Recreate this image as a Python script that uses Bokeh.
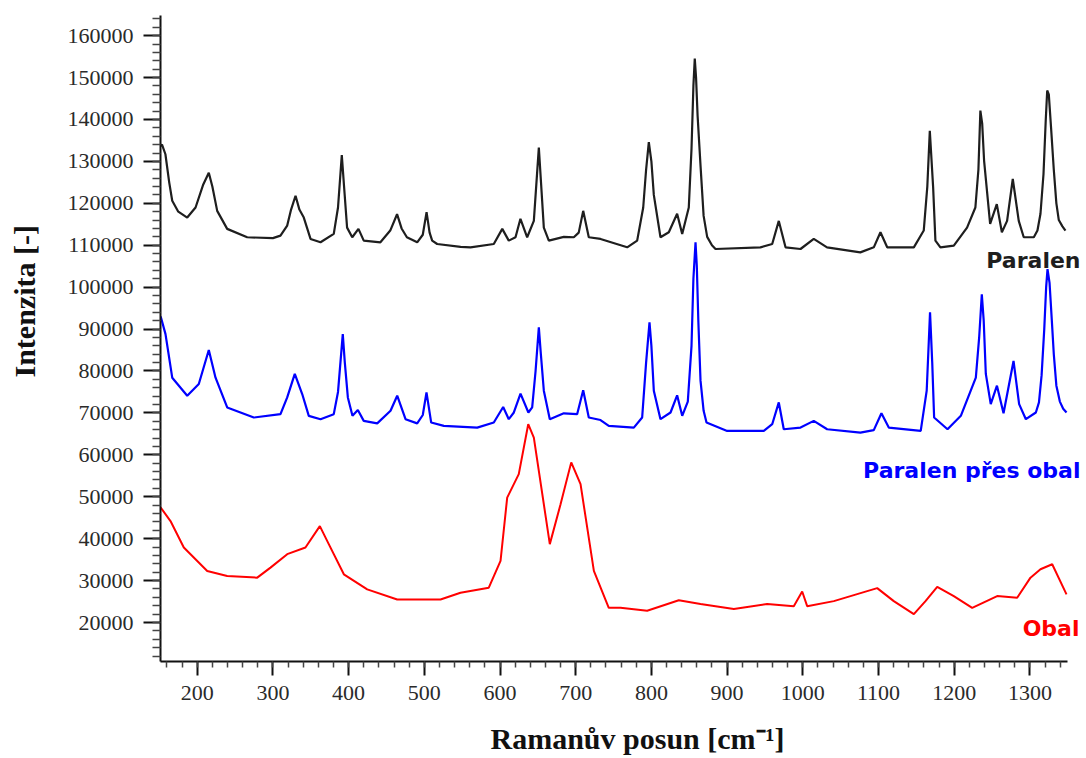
from bokeh.plotting import figure
from bokeh.models import Range1d, SingleIntervalTicker, Label, Title, BasicTickFormatter
from bokeh.embed import file_html
from bokeh.resources import INLINE

# --- data ---
paralen_x = [151.5, 153.5, 158, 163, 167, 175, 186.8, 197.8, 208, 215.3, 220, 226.4, 239.6, 266, 300, 310,
             318.9, 324, 329.9, 335, 340.8, 349.7, 362.9, 380.4, 386, 391, 394, 398, 404.8, 413, 420, 442,
             455, 464, 470, 477, 490.6, 498, 503, 507, 510.4, 517, 548, 561, 591.8, 603, 611.6, 620.5,
             627, 635.9, 644.7, 651.3, 657.9, 664.5, 684.3, 697.5, 704, 709.9, 717.3, 732.8, 768, 781.2,
             789.2, 793, 796.6, 800, 803.2, 812, 823, 834, 840.7, 849.4, 853, 855.5, 857.3, 859, 861, 864.9,
             869, 873.7, 880, 884.7,
             944, 959.6, 968.3, 977.2, 997, 1014.5, 1032, 1076, 1093.8, 1102.6, 1111.5, 1146.7, 1159.8,
             1164.5, 1167.8, 1172.2, 1175.2, 1181.8, 1199.5, 1217, 1228, 1232, 1234.6, 1237, 1239.5, 1247.5,
             1256.3, 1263, 1269.9, 1277.4, 1285.3, 1291.9, 1305.2, 1310, 1314, 1318, 1321, 1322.9, 1325,
             1328, 1331.6, 1335, 1338.2, 1343, 1347]
paralen_y = [133700, 134000, 131700, 125000, 120600, 118000, 116600, 119000, 124500, 127300, 124000, 118200,
             113900, 111900, 111700, 112300, 114700, 118500, 121800, 118500, 116600, 111500, 110700, 112700,
             119000, 131500, 124000, 114200, 111900, 113900, 111100, 110700, 113500, 117400, 114000, 111900,
             110700, 112500, 117900, 113000, 111100, 110300, 109600, 109500, 110300, 113900, 111100, 111900,
             116300, 111900, 115800, 133300, 114200, 111100, 112000, 111900, 113000, 118200, 111900, 111500,
             109500, 111100, 119000, 128000, 134600, 130000, 122000, 111900, 113100, 117500, 112700, 119000,
             133000, 148000, 154500, 150000, 141000, 129000, 117000, 112000, 110000, 109100,
             109500, 110300, 115800, 109500, 109100, 111500, 109500, 108300, 109500, 113100, 109500,
             109500, 113500, 124000, 137300, 123800, 111100, 109500, 109900, 114200, 119000, 128000, 142100,
             139000, 130200, 115100, 119800, 113100, 115800, 125800, 115800, 111900, 111900, 113500, 117500,
             127000, 140000, 146900, 146000, 138000, 128000, 120000, 116000, 114500, 113500]

pres_obal_x = [151.5, 152.4, 158.1, 167, 186.8, 202.1, 215.3, 224.2, 239.6, 274.8, 310, 318.9, 328.9, 338.7,
               347.4, 362.9, 380.4, 386, 392.3, 395, 399, 405.1, 412.2, 420, 437.8, 455.4, 464.2, 475.2,
               490.6, 498, 502.9, 509.1, 525.8, 569.9, 591.8, 604.2, 611.6, 618.3, 627.1, 637.5, 642.5, 647,
               651.3, 654, 657.9, 665.8, 684.3, 701.9, 709.9, 717.3, 732.8, 743.7, 776.8, 787.8, 793, 797.5,
               800, 803.2, 812, 825.3, 834, 840.7, 848.1, 853, 855.5, 858.3, 860, 862, 864.9, 869, 872.8,
               900.1, 948.5, 959.6, 968.3, 974.9, 997, 1014.5, 1032.2, 1076.1, 1093.8, 1103.9, 1113.6,
               1155.8, 1163.7, 1168.1, 1171, 1173.5, 1191.2, 1208.8, 1228.6, 1233, 1236.5, 1239, 1241.8,
               1248.3, 1256.5, 1265.2, 1278.4, 1285.8, 1294.7, 1307.9, 1312, 1315.5, 1319, 1321.5, 1323.3,
               1326, 1329, 1331.6, 1335, 1339.6, 1344, 1348.4]
pres_obal_y = [93000, 92600, 88800, 78400, 74100, 76900, 85000, 78400, 71300, 68900, 69700, 73700, 79300, 74500,
               69300, 68500, 69700, 75000, 88800, 82000, 73700, 69300, 70700, 68100, 67500, 70500, 74100, 68500,
               67500, 69500, 74900, 67700, 66900, 66500, 67700, 71400, 68500, 70100, 74600, 70100, 71300, 80000,
               90400, 84000, 75300, 68500, 69900, 69700, 75400, 68900, 68300, 66900, 66500, 68900, 82000, 91600,
               86000, 75300, 68500, 70100, 74200, 69300, 72700, 86000, 102000, 110700, 105000, 92000, 77700,
               70500, 67700,
               65700, 65700, 67300, 72500, 66100, 66500, 68100, 66100, 65300, 65900, 69900, 66500,
               65700, 75300, 94000, 82000, 68900, 66100, 69300, 78400, 88000, 98300, 92000, 79300,
               72100, 76500, 69900, 82400, 72100, 68500, 70100, 72500, 79000, 90000, 100000, 104300,
               101000, 92000, 84000, 76500, 72700, 71000, 70100]

obal_x = [151.5, 164.7, 182.3, 213.2, 239.6, 279.3, 296.8, 318.9, 343, 362, 373.8, 393.7, 424.6, 464.2, 521.4,
          547.8, 585.2, 600.7, 609.5, 624.8, 637.3, 644.7, 665.8, 680, 694.1, 706.4, 724, 743.7, 759.2, 794.4,
          836.2, 864.9, 908.9, 952.9, 988.1, 999.2, 1005.8, 1041, 1098.3, 1120.2, 1146.7, 1162.1, 1177.6,
          1199.5, 1223.8, 1256.8, 1283.2, 1300.8, 1314, 1329.5, 1348.4]
obal_y = [47500, 44200, 37900, 32300, 31100, 30700, 33100, 36300, 37900, 43000, 38700, 31500, 27900, 25500, 25500,
          27100, 28300, 34700, 49800, 55400, 67300, 64100, 38700, 48200, 58200, 53000, 32300, 23500, 23500, 22800,
          25300, 24400, 23200, 24400, 23900, 27400, 23900, 25100, 28200, 25100, 22000, 25100, 28500,
          26300, 23500, 26300, 25900, 30700, 32700, 33900, 26700]

series_names = ["Paralen", "Paralen přes obal", "Obal"]
series_colors = ["#1e1e1e", "#0000ff", "#ff0000"]

x_title = "Ramanův posun [cm⁻¹]"
y_title = "Intenzita [-]"

# --- figure ---
p = figure(width=1086, height=758, output_backend="svg", toolbar_location=None,
           x_range=Range1d(151.5, 1374.8), y_range=Range1d(10700, 164800),
           min_border_left=160, min_border_right=0, min_border_top=15, min_border_bottom=97)
p.outline_line_color = None
p.grid.visible = False
p.background_fill_color = "white"
p.border_fill_color = "white"

p.line(paralen_x, paralen_y, line_color=series_colors[0], line_width=2.2)
p.line(pres_obal_x, pres_obal_y, line_color=series_colors[1], line_width=2.2)
p.line(obal_x, obal_y, line_color=series_colors[2], line_width=2)

xa = p.xaxis[0]
xa.ticker = SingleIntervalTicker(interval=100, num_minor_ticks=5)
xa.bounds = (151.5, 1350)
ya = p.yaxis[0]
ya.ticker = SingleIntervalTicker(interval=10000, num_minor_ticks=5)
ya.formatter = BasicTickFormatter(use_scientific=False)
for ax in (xa, ya):
    ax.axis_line_width = 2
    ax.axis_line_color = "#111111"
    ax.major_tick_line_color = "#111111"
    ax.minor_tick_line_color = "#444444"
    ax.major_tick_line_width = 2
    ax.minor_tick_line_width = 1.5
    ax.major_tick_in = 0
    ax.minor_tick_in = 0
    ax.major_label_text_font = "Liberation Serif"
    ax.major_label_text_font_size = "22px"
    ax.major_label_text_color = "#2a2a2a"
ya.major_tick_out = 17
ya.minor_tick_out = 8
ya.major_label_standoff = 10
xa.major_tick_out = 14
xa.minor_tick_out = 6
xa.major_label_standoff = 10

# spacers between the axes and their titles
p.add_layout(Title(text=" ", text_font_size="1px", standoff=15), "below")
p.add_layout(Title(text=" ", text_font_size="1px", standoff=13), "left")

# axis titles as side titles
p.add_layout(Title(text=x_title, align="left", offset=330, standoff=2, vertical_align="top",
                   text_font="Liberation Serif", text_font_style="bold", text_font_size="30px",
                   text_color="#111111"), "below")
p.add_layout(Title(text=y_title, align="left", offset=284, standoff=12, vertical_align="top",
                   text_font="Liberation Serif", text_font_style="bold", text_font_size="30px",
                   text_color="#111111"), "left")

# series names
name_pos = [(920, 401), (920, 191), (919, 33)]
for name, col, (sx, sy) in zip(series_names, series_colors, name_pos):
    p.add_layout(Label(x=sx, y=sy, x_units="screen", y_units="screen", text=name,
                       text_font="DejaVu Sans", text_font_style="bold", text_font_size="22px",
                       text_align="right", text_baseline="alphabetic", text_color=col))

open("out.html", "w").write(file_html(p, INLINE))
